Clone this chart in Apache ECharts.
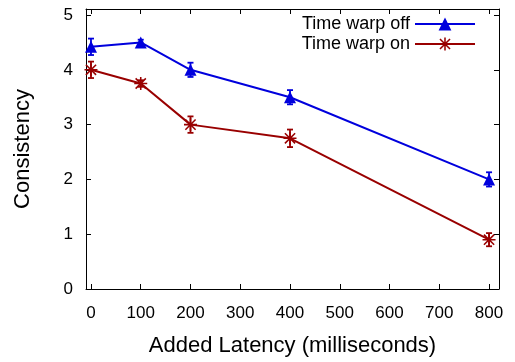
<!DOCTYPE html>
<html lang="en">
<head>
    <meta charset="UTF-8">
    <title>Consistency vs added latency</title>
    <script src="https://cdn.jsdelivr.net/npm/echarts@6/dist/echarts.min.js"></script>
    <style>
        html, body { margin: 0; padding: 0; background: #fff; }
        #container { width: 515px; height: 362px; }
    </style>
</head>
<body>
<div id="container"></div>
<script type="text/javascript">
    // values
    var latency = [0, 100, 200, 400, 800];
    var offMean = [4.42, 4.5, 4.0, 3.5, 2.0];
    var offErr = [0.15, 0.05, 0.13, 0.13, 0.13];
    var onMean = [4.0, 3.75, 3.0, 2.75, 0.9];
    var onErr = [0.15, 0.06, 0.15, 0.16, 0.12];
    var xTicks = [0, 100, 200, 300, 400, 500, 600, 700, 800];
    var yTicks = [0, 1, 2, 3, 4, 5];

    var blue = '#0000dd';
    var red = '#990000';
    var font = 'Liberation Sans, Arial, sans-serif';
    // gnuplot style asterisk
    var star = 'path://M0 8.8L20 8.8L20 11.2L0 11.2Z M8.8 0L11.2 0L11.2 20L8.8 20Z M1.3 3L3 1.3L18.7 17L17 18.7Z M17 1.3L18.7 3L3 18.7L1.3 17Z';

    function pairs(xs, ys) {
        return xs.map(function (x, i) { return [x, ys[i]]; });
    }
    function bars(xs, ys, es) {
        return xs.map(function (x, i) { return [x, ys[i] - es[i], ys[i] + es[i]]; });
    }
    // vertical error bar with small caps
    function errRender(color) {
        return function (params, api) {
            var x = api.value(0);
            var lo = api.coord([x, api.value(1)]);
            var hi = api.coord([x, api.value(2)]);
            var w = 3;
            var st = { stroke: color, lineWidth: 1.8, fill: null };
            return {
                type: 'group',
                children: [
                    { type: 'line', shape: { x1: lo[0], y1: lo[1], x2: hi[0], y2: hi[1] }, style: st },
                    { type: 'line', shape: { x1: lo[0] - w, y1: lo[1], x2: lo[0] + w, y2: lo[1] }, style: st },
                    { type: 'line', shape: { x1: hi[0] - w, y1: hi[1], x2: hi[0] + w, y2: hi[1] }, style: st }
                ]
            };
        };
    }

    var axisLine = { show: true, onZero: false, lineStyle: { color: '#000', width: 1 } };
    var label = { color: '#000', fontFamily: font, fontSize: 17 };

    var myChart = echarts.init(document.getElementById('container'));
    var option = {
        animation: false,
        backgroundColor: '#fff',
        grid: { left: 86, top: 9, right: 16, bottom: 71 },
        legend: {
            data: ['Time warp off', 'Time warp on'],
            orient: 'vertical',
            align: 'right',
            right: 34,
            top: 10,
            itemWidth: 60,
            itemHeight: 16,
            itemGap: 2,
            textStyle: { color: '#000', fontFamily: font, fontSize: 18 }
        },
        xAxis: [{
            type: 'value', min: -10, max: 820,
            name: 'Added Latency (milliseconds)',
            nameLocation: 'middle', nameGap: 46,
            nameTextStyle: { color: '#000', fontFamily: font, fontSize: 22 },
            axisLine: axisLine,
            axisTick: { show: true, inside: true, length: 5, customValues: xTicks, lineStyle: { color: '#000' } },
            axisLabel: Object.assign({ margin: 16, customValues: xTicks }, label),
            splitLine: { show: false }
        }, {
            type: 'value', min: -10, max: 820, position: 'top',
            axisLine: axisLine,
            axisTick: { show: true, inside: true, length: 5, customValues: xTicks, lineStyle: { color: '#000' } },
            axisLabel: { show: false },
            splitLine: { show: false }
        }],
        yAxis: [{
            type: 'value', min: 0, max: 5.11,
            name: 'Consistency',
            nameLocation: 'middle', nameGap: 52,
            nameTextStyle: { color: '#000', fontFamily: font, fontSize: 22 },
            axisLine: axisLine,
            axisTick: { show: true, inside: true, length: 5, customValues: yTicks, lineStyle: { color: '#000' } },
            axisLabel: Object.assign({ margin: 13, customValues: yTicks }, label),
            splitLine: { show: false }
        }, {
            type: 'value', min: 0, max: 5.11, position: 'right',
            axisLine: axisLine,
            axisTick: { show: true, inside: true, length: 5, customValues: yTicks, lineStyle: { color: '#000' } },
            axisLabel: { show: false },
            splitLine: { show: false }
        }],
        series: [{
            name: 'offErr', type: 'custom',
            renderItem: errRender(blue),
            data: bars(latency, offMean, offErr), z: 3
        }, {
            name: 'onErr', type: 'custom',
            renderItem: errRender(red),
            data: bars(latency, onMean, onErr), z: 3
        }, {
            name: 'Time warp off', type: 'line',
            data: pairs(latency, offMean),
            symbol: 'triangle', symbolSize: 12,
            itemStyle: { color: blue },
            lineStyle: { color: blue, width: 2 }, z: 4
        }, {
            name: 'Time warp on', type: 'line',
            data: pairs(latency, onMean),
            symbol: star, symbolSize: 13,
            itemStyle: { color: red },
            lineStyle: { color: red, width: 2 }, z: 4
        }]
    };
    myChart.setOption(option);
</script>
</body>
</html>
